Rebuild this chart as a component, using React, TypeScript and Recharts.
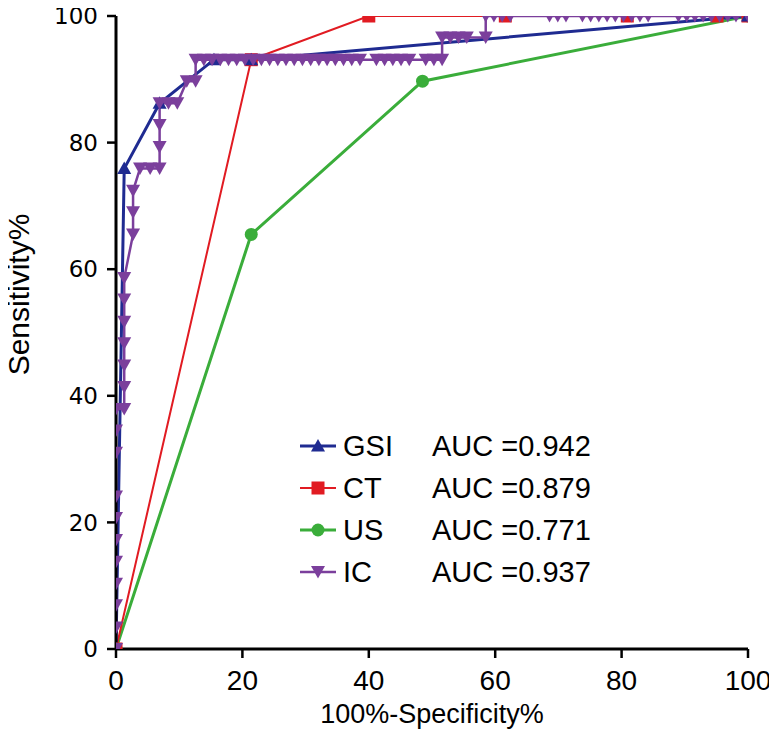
import React from 'react';
import { LineChart, Line, XAxis, YAxis, Legend } from 'recharts';

const xTicks = [0, 20, 40, 60, 80, 100];
const yTicks = [0, 20, 40, 60, 80, 100];

// GSI
const gsiX = [0, 1.3, 6.9, 15.5, 21.4, 100];
const gsiY = [0, 75.9, 86.2, 93.1, 93.1, 100];

// CT
const ctX = [0, 21.4, 40, 61.6, 80.9, 95.1, 100];
const ctY = [0, 93.1, 100, 100, 100, 100, 100];

// US
const usX = [0, 21.4, 48.5, 100];
const usY = [0, 65.5, 89.7, 100];

// IC
const icX = [
  0, 0, 0, 0, 0, 0, 0, 0, 0, 0, 0,
  1.3, 1.3, 1.3, 1.3, 1.3, 1.3, 1.3,
  2.7, 2.7, 2.7,
  3.8, 5.4, 6.9, 6.9, 6.9, 6.9,
  8.3, 9.7, 11.2, 12.6,
  12.6, 13.9, 15.2, 16.5, 17.8, 19.1, 20.4, 21.7, 23.0, 24.3, 25.6, 26.9, 28.2, 29.5, 30.8,
  32.1, 33.4, 34.7, 36.0, 37.3, 38.6, 41.2, 42.5, 43.8, 45.1, 46.4, 49.0, 50.3, 51.6,
  51.6, 52.9, 54.2, 55.5, 58.5,
  58.5, 59.8, 61.1, 62.4, 68.6, 69.9, 71.2, 73.8, 75.1, 76.4, 77.7, 79.0, 80.3, 81.6, 82.9, 84.2,
  89.0, 90.3, 91.6, 92.9, 94.2, 95.5, 96.8, 98.1, 100,
];
const icY = [
  0, 3.4, 6.9, 10.3, 13.8, 17.2, 20.7, 24.1, 31.0, 34.5, 37.9,
  37.9, 41.4, 44.8, 48.3, 51.7, 55.2, 58.6,
  65.5, 69.0, 72.4,
  75.9, 75.9, 75.9, 79.3, 82.8, 86.2,
  86.2, 86.2, 89.7, 89.7,
  93.1, 93.1, 93.1, 93.1, 93.1, 93.1, 93.1, 93.1, 93.1, 93.1, 93.1, 93.1, 93.1, 93.1, 93.1,
  93.1, 93.1, 93.1, 93.1, 93.1, 93.1, 93.1, 93.1, 93.1, 93.1, 93.1, 93.1, 93.1, 93.1,
  96.6, 96.6, 96.6, 96.6, 96.6,
  100, 100, 100, 100, 100, 100, 100, 100, 100, 100, 100, 100, 100, 100, 100, 100,
  100, 100, 100, 100, 100, 100, 100, 100, 100,
];

const zip = (xs: number[], ys: number[]) => xs.map((x, i) => ({ x, y: ys[i] }));

const BLUE = '#1f2b91';
const RED = '#e11b22';
const GREEN = '#3aad3a';
const PURPLE = '#7b3f9c';

type Shape = 'up' | 'square' | 'circle' | 'down';

const series = [
  { key: 'gsi', name: 'GSI', auc: '0.942', color: BLUE, width: 3, shape: 'up' as Shape, data: zip(gsiX, gsiY) },
  { key: 'ct', name: 'CT', auc: '0.879', color: RED, width: 2, shape: 'square' as Shape, data: zip(ctX, ctY) },
  { key: 'us', name: 'US', auc: '0.771', color: GREEN, width: 3, shape: 'circle' as Shape, data: zip(usX, usY) },
  { key: 'ic', name: 'IC', auc: '0.937', color: PURPLE, width: 2.5, shape: 'down' as Shape, data: zip(icX, icY) },
];

// drawing order: US, CT, GSI, IC on top
const drawOrder = ['us', 'ct', 'gsi', 'ic'];

function Marker({ shape, cx, cy, color }: { shape: Shape; cx: number; cy: number; color: string }) {
  if (cx == null || cy == null) return null;
  if (shape === 'up')
    return <polygon points={`${cx},${cy - 7} ${cx + 7},${cy + 5.5} ${cx - 7},${cy + 5.5}`} fill={color} />;
  if (shape === 'down')
    return <polygon points={`${cx - 7},${cy - 6} ${cx + 7},${cy - 6} ${cx},${cy + 6.5}`} fill={color} />;
  if (shape === 'square') return <rect x={cx - 6.5} y={cy - 6.5} width={13} height={13} fill={color} />;
  return <circle cx={cx} cy={cy} r={6.5} fill={color} />;
}

const font = '"Liberation Sans", Arial, sans-serif';

const LegendBox = () => (
  <div style={{ fontFamily: font, fontSize: 29, color: '#000' }}>
    {series.map((s) => (
      <div key={s.key} style={{ display: 'flex', alignItems: 'center', height: 42, whiteSpace: 'nowrap' }}>
        <svg width={36} height={20} style={{ display: 'block' }}>
          <line x1={0} y1={10} x2={36} y2={10} stroke={s.color} strokeWidth={s.width} />
          <Marker shape={s.shape} cx={18} cy={10} color={s.color} />
        </svg>
        <span style={{ marginLeft: 7, width: 89, display: 'inline-block' }}>{s.name}</span>
        <span>AUC ={s.auc}</span>
      </div>
    ))}
  </div>
);

export default function App() {
  return (
    <div style={{ marginLeft: -8, marginTop: -8, width: 777, height: 736 }}>
      <LineChart width={777} height={736} margin={{ top: 16, right: 29, bottom: 0, left: 0 }}>
        <XAxis
          type="number"
          dataKey="x"
          domain={[0, 100]}
          ticks={xTicks}
          allowDataOverflow
          height={87}
          tickSize={9}
          tickMargin={12}
          axisLine={{ stroke: '#000', strokeWidth: 3 }}
          tickLine={{ stroke: '#000', strokeWidth: 2.5 }}
          tick={{ fill: '#000', fontSize: 28, fontFamily: font }}
          label={{ value: '100%-Specificity%', position: 'insideBottom', offset: 13, fill: '#000', fontSize: 27, fontFamily: font }}
        />
        <YAxis
          type="number"
          dataKey="y"
          domain={[0, 100]}
          ticks={yTicks}
          allowDataOverflow
          width={116}
          tickSize={9}
          tickMargin={9}
          axisLine={{ stroke: '#000', strokeWidth: 3 }}
          tickLine={{ stroke: '#000', strokeWidth: 2.5 }}
          tick={{ fill: '#000', fontSize: 23, fontFamily: '"DejaVu Sans", sans-serif' }}
          label={{ value: 'Sensitivity%', angle: -90, position: 'center', dx: -40, dy: -38, fill: '#000', fontSize: 30, fontFamily: font }}
        />
        <Legend
          layout="vertical"
          align="center"
          verticalAlign="middle"
          wrapperStyle={{ left: 300, top: 425, width: 330 }}
          content={() => <LegendBox />}
        />
        {drawOrder.map((k) => {
          const s = series.find((d) => d.key === k)!;
          return (
            <Line
              key={s.key}
              data={s.data}
              dataKey="y"
              name={s.name}
              type="linear"
              stroke={s.color}
              strokeWidth={s.width}
              isAnimationActive={false}
              dot={(p: any) => <Marker key={`${s.key}-${p.index}`} shape={s.shape} cx={p.cx} cy={p.cy} color={s.color} />}
              activeDot={false}
            />
          );
        })}
      </LineChart>
    </div>
  );
}
